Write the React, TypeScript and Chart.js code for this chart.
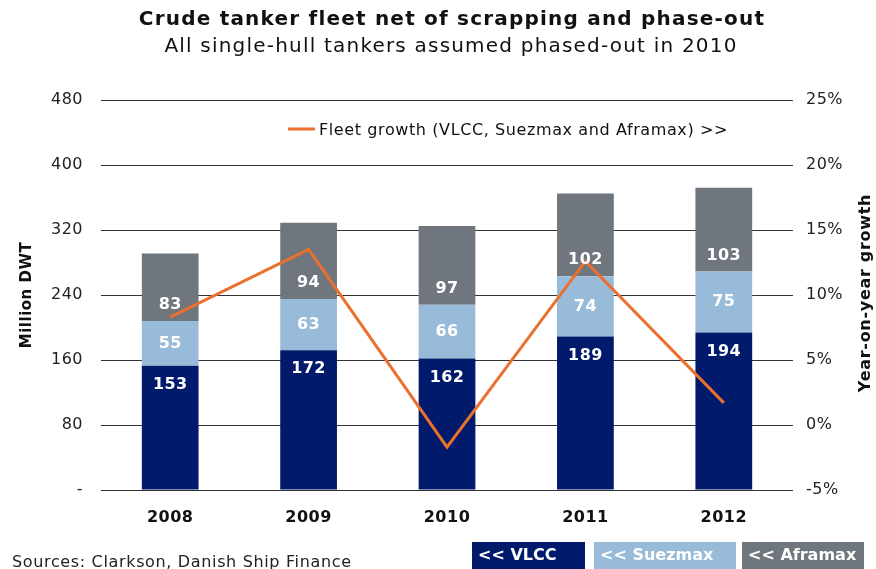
import React, { useEffect, useRef } from 'react';
import { Chart, registerables } from 'chart.js';

Chart.register(...registerables);

const years = ['2008', '2009', '2010', '2011', '2012'];
const vlcc = [153, 172, 162, 189, 194];
const suezmax = [55, 63, 66, 74, 75];
const aframax = [83, 94, 97, 102, 103];
const growth = [8.3, 13.5, -1.7, 12.6, 1.7];

const TITLE = 'Crude tanker fleet net of scrapping and phase-out';
const SUBTITLE = 'All single-hull tankers assumed phased-out in 2010';
const SOURCE = 'Sources: Clarkson, Danish Ship Finance';

const NAVY = '#021a6b';
const LIGHT = '#99bbda';
const GRAY = '#6f767e';
const ORANGE = '#eb6f2d';
const FONT = '"DejaVu Sans", Verdana, sans-serif';

const spacing = {
  id: 'spacing',
  beforeDraw(chart: any) {
    chart.ctx.letterSpacing = '0.5px';
  },
};

const segLabels = {
  id: 'segLabels',
  afterDatasetsDraw(chart: any) {
    const ctx = chart.ctx;
    ctx.save();
    ctx.letterSpacing = '0.4px';
    ctx.font = `bold 16px ${FONT}`;
    ctx.fillStyle = '#ffffff';
    ctx.textAlign = 'center';
    ctx.textBaseline = 'middle';
    [0, 1, 2].forEach((di) => {
      const meta = chart.getDatasetMeta(di);
      const data = chart.data.datasets[di].data;
      meta.data.forEach((bar: any, i: number) => {
        const p = bar.getProps(['x', 'y', 'base'], true);
        let ty;
        if (di === 0) ty = p.y + 19;
        else if (di === 1) ty = (p.y + p.base) / 2;
        else ty = p.base - 16;
        ctx.fillText(String(data[i]), p.x, ty);
      });
    });
    ctx.restore();
  },
};

const extras = {
  id: 'extras',
  afterDraw(chart: any) {
    const ctx = chart.ctx;
    ctx.save();
    ctx.textBaseline = 'middle';

    // titles
    ctx.fillStyle = '#111';
    ctx.textAlign = 'center';
    ctx.letterSpacing = '1.2px';
    ctx.font = `bold 20px ${FONT}`;
    ctx.fillText(TITLE, 452, 20);
    ctx.font = `20px ${FONT}`;
    ctx.fillText(SUBTITLE, 451, 47);

    // in-plot legend for the line
    ctx.strokeStyle = ORANGE;
    ctx.lineWidth = 3;
    ctx.beginPath();
    ctx.moveTo(288, 129);
    ctx.lineTo(315, 129);
    ctx.stroke();
    ctx.fillStyle = '#111';
    ctx.letterSpacing = '0.6px';
    ctx.font = `16px ${FONT}`;
    ctx.textAlign = 'left';
    ctx.fillText(chart.data.datasets[3].label, 319, 131);

    // right axis title
    ctx.save();
    ctx.translate(866, 293);
    ctx.rotate(-Math.PI / 2);
    ctx.letterSpacing = '0.7px';
    ctx.font = `bold 16px ${FONT}`;
    ctx.textAlign = 'center';
    ctx.fillStyle = '#111';
    ctx.fillText('Year-on-year growth', 0, 0);
    ctx.restore();

    // sources
    ctx.letterSpacing = '0.65px';
    ctx.font = `16px ${FONT}`;
    ctx.fillStyle = '#222';
    ctx.textAlign = 'left';
    ctx.fillText(SOURCE, 12, 563);

    // bottom legend boxes
    const boxes = [
      { x: 472, w: 113, c: NAVY, t: '<< VLCC' },
      { x: 594, w: 142, c: LIGHT, t: '<< Suezmax' },
      { x: 742, w: 122, c: GRAY, t: '<< Aframax' },
    ];
    ctx.letterSpacing = '0px';
    ctx.font = `bold 16px ${FONT}`;
    boxes.forEach((b) => {
      ctx.fillStyle = b.c;
      ctx.fillRect(b.x, 542, b.w, 30);
      ctx.fillStyle = '#ffffff';
      ctx.fillText(b.t, b.x + 6, 556);
    });
    ctx.restore();
  },
};

export default function App() {
  const ref = useRef<HTMLCanvasElement | null>(null);

  useEffect(() => {
    document.body.style.margin = '0';
    const chart = new Chart(ref.current as HTMLCanvasElement, {
      type: 'bar',
      data: {
        labels: years,
        datasets: [
          { label: 'VLCC', data: vlcc, backgroundColor: NAVY, yAxisID: 'y', order: 1, stack: 'fleet' },
          { label: 'Suezmax', data: suezmax, backgroundColor: LIGHT, yAxisID: 'y', order: 1, stack: 'fleet' },
          { label: 'Aframax', data: aframax, backgroundColor: GRAY, yAxisID: 'y', order: 1, stack: 'fleet' },
          {
            type: 'line',
            label: 'Fleet growth (VLCC, Suezmax and Aframax) >>',
            data: growth,
            borderColor: ORANGE,
            borderWidth: 3,
            pointRadius: 0,
            tension: 0,
            yAxisID: 'y1',
            order: 0,
            stack: 'growth',
          } as any,
        ],
      },
      options: {
        responsive: false,
        animation: false,
        layout: { padding: { top: 100, left: 0, right: 0, bottom: 0 } },
        datasets: { bar: { barPercentage: 0.41, categoryPercentage: 1 } },
        plugins: {
          legend: { display: false },
          tooltip: { enabled: false },
          title: { display: false },
        },
        scales: {
          x: {
            stacked: true,
            grid: { display: false, drawTicks: false },
            border: { display: false },
            ticks: { color: '#111', font: { family: FONT, size: 16, weight: 'bold' }, padding: 18 },
            afterFit(s: any) { s.height = 79; },
          },
          y: {
            stacked: true,
            position: 'left',
            min: 0,
            max: 480,
            ticks: {
              stepSize: 80,
              color: '#222',
              font: { family: FONT, size: 16 },
              padding: 18,
              callback: (v: any) => (v === 0 ? '-' : String(v)),
            },
            grid: { color: '#333333', lineWidth: 1, drawTicks: false },
            border: { display: false },
            title: {
              display: true,
              text: 'Million DWT',
              color: '#111',
              font: { family: FONT, size: 15, weight: 'bold', lineHeight: 1.2 },
              padding: { top: 18, bottom: 0 },
            },
            afterFit(s: any) { s.width = 101; },
          },
          y1: {
            position: 'right',
            min: -5,
            max: 25,
            ticks: {
              stepSize: 5,
              color: '#222',
              font: { family: FONT, size: 16 },
              padding: 13,
              callback: (v: any) => `${v}%`,
            },
            grid: { display: false, drawTicks: false },
            border: { display: false },
            afterFit(s: any) { s.width = 83; },
          },
        },
      },
      plugins: [spacing, segLabels, extras],
    });
    return () => chart.destroy();
  }, []);

  return (
    <div style={{ width: 876, height: 569, background: '#fff' }}>
      <canvas ref={ref} width={876} height={569} style={{ display: 'block' }} />
    </div>
  );
}
